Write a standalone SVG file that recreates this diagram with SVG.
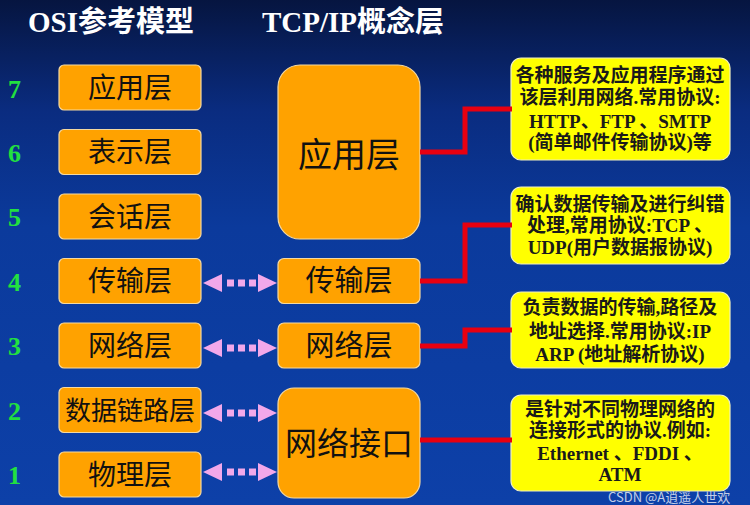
<svg xmlns="http://www.w3.org/2000/svg" xmlns:xlink="http://www.w3.org/1999/xlink" width="750" height="505" viewBox="0 0 750 505">
<defs>
<linearGradient id="bg" x1="0" y1="0" x2="0" y2="1">
<stop offset="0" stop-color="#061540"/>
<stop offset="0.22" stop-color="#0a2c80"/>
<stop offset="0.45" stop-color="#0b3a9c"/>
<stop offset="1" stop-color="#0d40a8"/>
</linearGradient>
<g id="darrow">
<polygon points="203,0 222,-9 222,9" class="pk"/>
<rect x="227" y="-3.5" width="7" height="7" class="pk"/>
<rect x="238" y="-3.5" width="7" height="7" class="pk"/>
<rect x="249" y="-3.5" width="7" height="7" class="pk"/>
<polygon points="277,0 258,-9 258,9" class="pk"/>
</g>
</defs>
<style>
.title{font-family:"Liberation Serif","Noto Sans CJK SC",serif;font-weight:bold;font-size:29px;fill:#ffffff}
.num{font-family:"Liberation Serif",serif;font-weight:bold;font-size:26px;fill:#22e040}
.ob{fill:#ffa200;stroke:#f5d9a0;stroke-width:1.2}
.yb{fill:#ffff00;stroke:#f0f0c0;stroke-width:1.2}
.ot{font-family:"Noto Sans CJK SC",sans-serif;font-size:28px;fill:#111111;text-anchor:middle}
.yt{font-family:"Liberation Serif","Noto Sans CJK SC",serif;font-weight:bold;font-size:19px;fill:#1a1a1a;text-anchor:middle}
.pk{fill:#f2a8ea}
.red{fill:none;stroke:#e80010;stroke-width:5;stroke-linejoin:miter}
.wm{font-family:"Noto Sans CJK SC",sans-serif;font-size:13px;fill:#ffffff;fill-opacity:0.75}
</style>
<rect x="0" y="0" width="750" height="505" fill="url(#bg)"/>

<g id="titles">
<text class="title" x="28" y="32">OSI参考模型</text>
<text class="title" x="262" y="32">TCP/IP概念层</text>
</g>

<g id="numbers">
<text class="num" x="8" y="98">7</text>
<text class="num" x="8" y="162">6</text>
<text class="num" x="8" y="226">5</text>
<text class="num" x="8" y="291">4</text>
<text class="num" x="8" y="355">3</text>
<text class="num" x="8" y="420">2</text>
<text class="num" x="8" y="484">1</text>
</g>

<g id="osi-7"><rect class="ob" x="59" y="65" width="142" height="45" rx="5"/><text class="ot" x="130" y="97.5">应用层</text></g>
<g id="osi-6"><rect class="ob" x="59" y="129.5" width="142" height="45" rx="5"/><text class="ot" x="130" y="162">表示层</text></g>
<g id="osi-5"><rect class="ob" x="59" y="194" width="142" height="45" rx="5"/><text class="ot" x="130" y="226.5">会话层</text></g>
<g id="osi-4"><rect class="ob" x="59" y="258.5" width="142" height="45" rx="5"/><text class="ot" x="130" y="291">传输层</text></g>
<g id="osi-3"><rect class="ob" x="59" y="323" width="142" height="45" rx="5"/><text class="ot" x="130" y="355.5">网络层</text></g>
<g id="osi-2"><rect class="ob" x="59" y="387.5" width="142" height="45" rx="5"/><text class="ot" x="130" y="419.5" style="font-size:26px">数据链路层</text></g>
<g id="osi-1"><rect class="ob" x="59" y="452" width="142" height="45" rx="5"/><text class="ot" x="130" y="484.5">物理层</text></g>

<g id="tcp-app"><rect class="ob" x="278" y="65" width="142" height="174" rx="22"/><text class="ot" x="349" y="167" style="font-size:34px">应用层</text></g>
<g id="tcp-transport"><rect class="ob" x="278" y="258.5" width="142" height="45" rx="6"/><text class="ot" x="349" y="291" style="font-size:29px">传输层</text></g>
<g id="tcp-network"><rect class="ob" x="278" y="323" width="142" height="45" rx="6"/><text class="ot" x="349" y="355.5" style="font-size:29px">网络层</text></g>
<g id="tcp-link"><rect class="ob" x="278" y="388" width="142" height="110" rx="16"/><text class="ot" x="349" y="455" style="font-size:32px">网络接口</text></g>

<g id="note-app"><rect class="yb" x="511" y="58" width="219" height="102" rx="10"/>
<text class="yt" x="620" y="82">各种服务及应用程序通过</text>
<text class="yt" x="620" y="104">该层利用网络.常用协议:</text>
<text class="yt" x="620" y="128">HTTP、FTP 、SMTP</text>
<text class="yt" x="620" y="149">(简单邮件传输协议)等</text>
</g>
<g id="note-transport"><rect class="yb" x="511" y="187" width="219" height="77" rx="10"/>
<text class="yt" x="620" y="211">确认数据传输及进行纠错</text>
<text class="yt" x="620" y="232">处理,常用协议:TCP 、</text>
<text class="yt" x="620" y="254">UDP(用户数据报协议)</text>
</g>
<g id="note-network"><rect class="yb" x="511" y="292" width="219" height="76" rx="10"/>
<text class="yt" x="620" y="314">负责数据的传输,路径及</text>
<text class="yt" x="620" y="338">地址选择.常用协议:IP</text>
<text class="yt" x="620" y="361">ARP (地址解析协议)</text>
</g>
<g id="note-link"><rect class="yb" x="511" y="395" width="219" height="96" rx="10"/>
<text class="yt" x="620" y="416">是针对不同物理网络的</text>
<text class="yt" x="620" y="437">连接形式的协议.例如:</text>
<text class="yt" x="620" y="460">Ethernet 、FDDI 、</text>
<text class="yt" x="620" y="481">ATM</text>
</g>

<g id="connectors">
<use xlink:href="#darrow" href="#darrow" y="283"/>
<use xlink:href="#darrow" href="#darrow" y="348"/>
<use xlink:href="#darrow" href="#darrow" y="413"/>
<use xlink:href="#darrow" href="#darrow" y="472"/>
<polyline class="red" points="420,152 465,152 465,109 512,109"/>
<polyline class="red" points="420,281 465,281 465,225 512,225"/>
<polyline class="red" points="420,346 465,346 465,330 512,330"/>
<polyline class="red" points="420,440 512,440"/>
</g>

<text class="wm" x="608" y="502">CSDN @A逍遥人世欢</text>
</svg>
